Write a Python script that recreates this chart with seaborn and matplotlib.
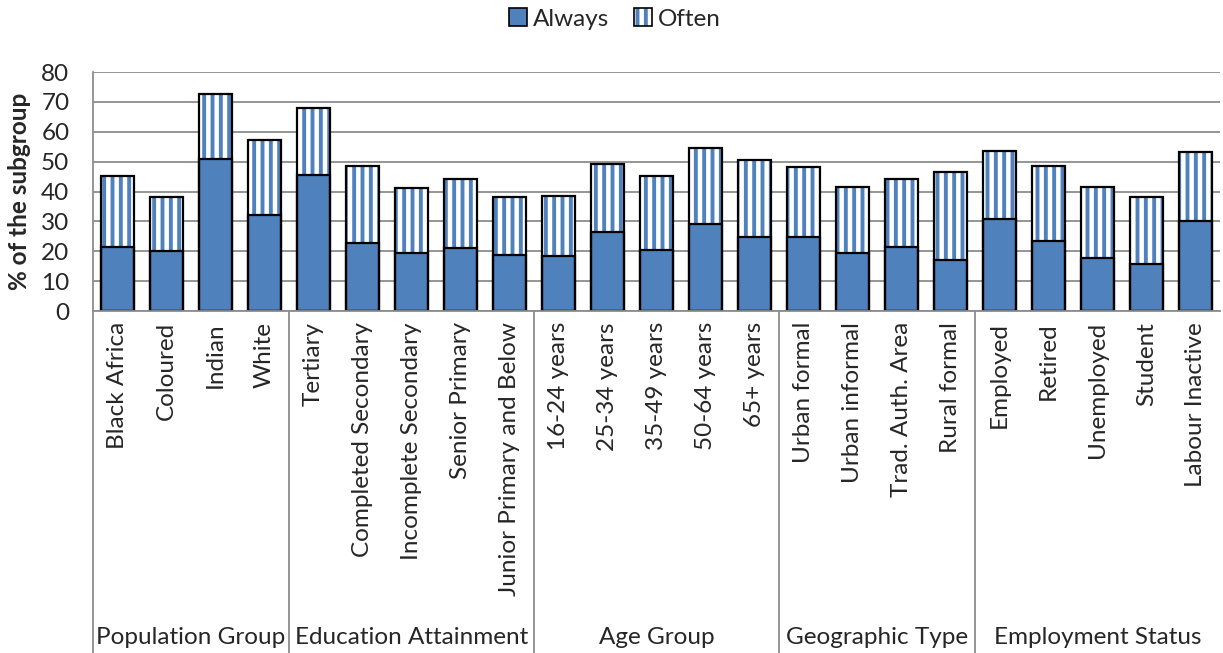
import matplotlib
matplotlib.use("Agg")
import matplotlib.pyplot as plt
import matplotlib.transforms as mtransforms
import seaborn as sns
from matplotlib.patches import Patch
from matplotlib.legend_handler import HandlerTuple

# data
categories = ["Black Africa", "Coloured", "Indian", "White",
              "Tertiary", "Completed Secondary", "Incomplete Secondary",
              "Senior Primary", "Junior Primary and Below",
              "16-24 years", "25-34 years", "35-49 years", "50-64 years", "65+ years",
              "Urban formal", "Urban informal", "Trad. Auth. Area", "Rural formal",
              "Employed", "Retired", "Unemployed", "Student", "Labour Inactive"]
always = [21.5, 20.0, 50.9, 32.1,
          45.4, 22.6, 19.5, 21.0, 18.8,
          18.3, 26.4, 20.4, 29.2, 24.7,
          24.8, 19.4, 21.4, 17.0,
          30.8, 23.5, 17.9, 15.8, 30.0]
often = [23.7, 18.1, 21.7, 25.2,
         22.4, 25.8, 21.6, 23.1, 19.3,
         20.2, 22.8, 24.8, 25.2, 25.9,
         23.3, 22.1, 22.9, 29.5,
         22.8, 25.2, 23.5, 22.5, 23.1]
groups = ["Population Group", "Education Attainment", "Age Group",
          "Geographic Type", "Employment Status"]
group_sizes = [4, 5, 5, 4, 5]

BLUE = "#4F81BD"
GREY = "#8c8c8c"
FS = 17.5

sns.set_theme(style="white")
plt.rcParams["font.family"] = ["Lato", "DejaVu Sans"]
plt.rcParams["font.size"] = FS
plt.rcParams["hatch.linewidth"] = 2.8

total = [a + o for a, o in zip(always, often)]

fig = plt.figure(figsize=(12.23, 6.53), dpi=100)
ax = fig.add_axes([93 / 1223, 1 - 311 / 653, 1127 / 1223, 239 / 653])

# full-height hatched bars (Often sits on top of Always)
sns.barplot(x=categories, y=total, color="white", edgecolor=BLUE, hatch="||",
            linewidth=0, width=0.67, saturation=1, errorbar=None, ax=ax)
sns.barplot(x=categories, y=always, color=BLUE, edgecolor="black",
            linewidth=1.6, width=0.67, saturation=1, errorbar=None, ax=ax)
sns.barplot(x=categories, y=total, color="black", fill=False,
            linewidth=1.6, width=0.67, saturation=1, errorbar=None, ax=ax)

ax.set_ylim(0, 80)
ax.set_yticks(range(0, 81, 10))
ax.set_xlim(-0.5, len(categories) - 0.5)
ax.yaxis.grid(True, color=GREY, lw=1.3)
ax.set_axisbelow(True)
for s in ["top", "right"]:
    ax.spines[s].set_visible(False)
for s in ["left", "bottom"]:
    ax.spines[s].set_color(GREY)
    ax.spines[s].set_linewidth(1.3)
ax.tick_params(axis="y", length=5, color=GREY, width=1.3, pad=12, labelsize=FS)
ax.tick_params(axis="x", length=0, pad=8, labelsize=FS)
ax.set_xticks(range(len(categories)))
ax.set_xticklabels(categories, rotation=90)
ax.set_xlabel("")
ax.set_ylabel("")

fig.text(20 / 1223, 1 - 191 / 653, "% of the subgroup", rotation=90,
         ha="center", va="center", fontweight="bold", fontsize=FS)

# group separators and names below the tick labels
trans = mtransforms.blended_transform_factory(ax.transData, ax.transAxes)
low = -342 / 239
start = 0
bounds = [-0.5]
for name, n in zip(groups, group_sizes):
    ax.text(start + (n - 1) / 2, -326 / 239, name, transform=trans,
            ha="center", va="center", fontsize=FS)
    start += n
    if start < len(categories):
        bounds.append(start - 0.5)
for b in bounds:
    ax.plot([b, b], [low, 0], transform=trans, color=GREY, lw=1.3, clip_on=False)

handles = [Patch(facecolor=BLUE, edgecolor="black", lw=1.2),
           (Patch(facecolor="white", edgecolor=BLUE, hatch="||", lw=0),
            Patch(fill=False, edgecolor="black", lw=1.2))]
fig.legend(handles, ["Always", "Often"], loc="center", fontsize=FS,
           bbox_to_anchor=(615 / 1223, 1 - 19 / 653), ncol=2, frameon=False,
           handlelength=0.75, handleheight=0.75, handletextpad=0.25,
           columnspacing=1.0, handler_map={tuple: HandlerTuple(ndivide=1)})

fig.savefig("out.png", dpi=100)
